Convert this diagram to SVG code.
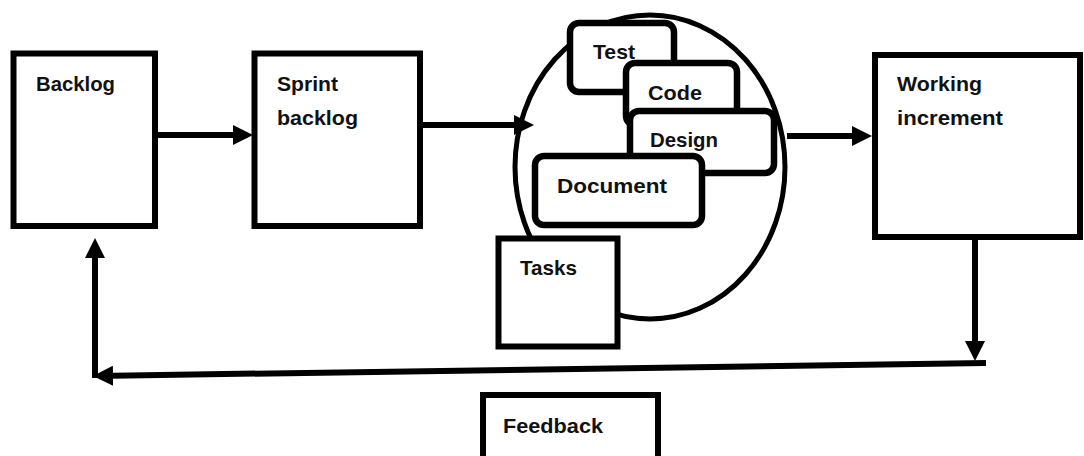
<svg xmlns="http://www.w3.org/2000/svg" width="1084" height="456" viewBox="0 0 1084 456">
  <style>
    .box { fill: #ffffff; stroke: #000000; stroke-width: 6; }
    .card { fill: #ffffff; stroke: #000000; stroke-width: 6.5; }
    .lbl { font-family: "Liberation Sans", Arial, sans-serif; font-weight: bold; font-size: 21px; fill: #111111; }
    .wire { fill: none; stroke: #000000; stroke-width: 6; }
  </style>
  <defs>
    <marker id="head" viewBox="0 0 20 20" refX="0" refY="10" markerWidth="20" markerHeight="20" markerUnits="userSpaceOnUse" orient="auto">
      <path d="M0,0 L20,10 L0,20 Z" fill="#000000"/>
    </marker>
  </defs>
  <rect width="1084" height="456" fill="#ffffff"/>

  <!-- sprint cycle ring -->
  <g id="sprint-cycle">
    <ellipse cx="650" cy="167" rx="135" ry="152" fill="none" stroke="#000000" stroke-width="5"/>
  </g>

  <g id="backlog">
    <rect class="box" x="13.5" y="53.5" width="141.5" height="172.5"/>
    <text class="lbl" x="36" y="91" textLength="79" lengthAdjust="spacingAndGlyphs">Backlog</text>
  </g>

  <g id="sprint-backlog">
    <rect class="box" x="254.5" y="53.5" width="165.5" height="172.5"/>
    <text class="lbl" x="277" y="91" textLength="61" lengthAdjust="spacingAndGlyphs">Sprint</text>
    <text class="lbl" x="277" y="125" textLength="81" lengthAdjust="spacingAndGlyphs">backlog</text>
  </g>

  <g id="test">
    <rect class="card" x="570" y="23" width="104" height="69" rx="9"/>
    <text class="lbl" x="593" y="59" textLength="42" lengthAdjust="spacingAndGlyphs">Test</text>
  </g>

  <g id="code">
    <rect class="card" x="626" y="63" width="111" height="62" rx="9"/>
    <text class="lbl" x="648" y="100" textLength="54" lengthAdjust="spacingAndGlyphs">Code</text>
  </g>

  <g id="design">
    <rect class="card" x="630" y="111" width="144" height="62" rx="9"/>
    <text class="lbl" x="650" y="147" textLength="68" lengthAdjust="spacingAndGlyphs">Design</text>
  </g>

  <g id="document">
    <rect class="card" x="535" y="156" width="167" height="69" rx="9"/>
    <text class="lbl" x="557" y="193" textLength="110" lengthAdjust="spacingAndGlyphs">Document</text>
  </g>

  <g id="tasks">
    <rect class="box" x="498.5" y="238.5" width="119" height="108"/>
    <text class="lbl" x="520" y="275" textLength="57" lengthAdjust="spacingAndGlyphs">Tasks</text>
  </g>

  <g id="working-increment">
    <rect class="box" x="875" y="55" width="205" height="182" stroke-width="7"/>
    <text class="lbl" x="897" y="91" textLength="85" lengthAdjust="spacingAndGlyphs">Working</text>
    <text class="lbl" x="897" y="125" textLength="106" lengthAdjust="spacingAndGlyphs">increment</text>
  </g>

  <g id="feedback">
    <rect class="box" x="483" y="395" width="175" height="72"/>
    <text class="lbl" x="503" y="433" textLength="100" lengthAdjust="spacingAndGlyphs">Feedback</text>
  </g>

  <!-- flow connectors -->
  <g id="connectors">
    <line class="wire" x1="158" y1="135" x2="233" y2="135" marker-end="url(#head)"/>
    <line class="wire" x1="423" y1="125" x2="514" y2="125" marker-end="url(#head)"/>
    <line class="wire" x1="787" y1="136" x2="852" y2="136" marker-end="url(#head)"/>
    <line class="wire" x1="975" y1="240" x2="975" y2="341" marker-end="url(#head)"/>
    <line class="wire" x1="986" y1="363" x2="113" y2="375.7" marker-end="url(#head)"/>
    <line class="wire" x1="95" y1="378" x2="95" y2="258" marker-end="url(#head)"/>
  </g>
</svg>
